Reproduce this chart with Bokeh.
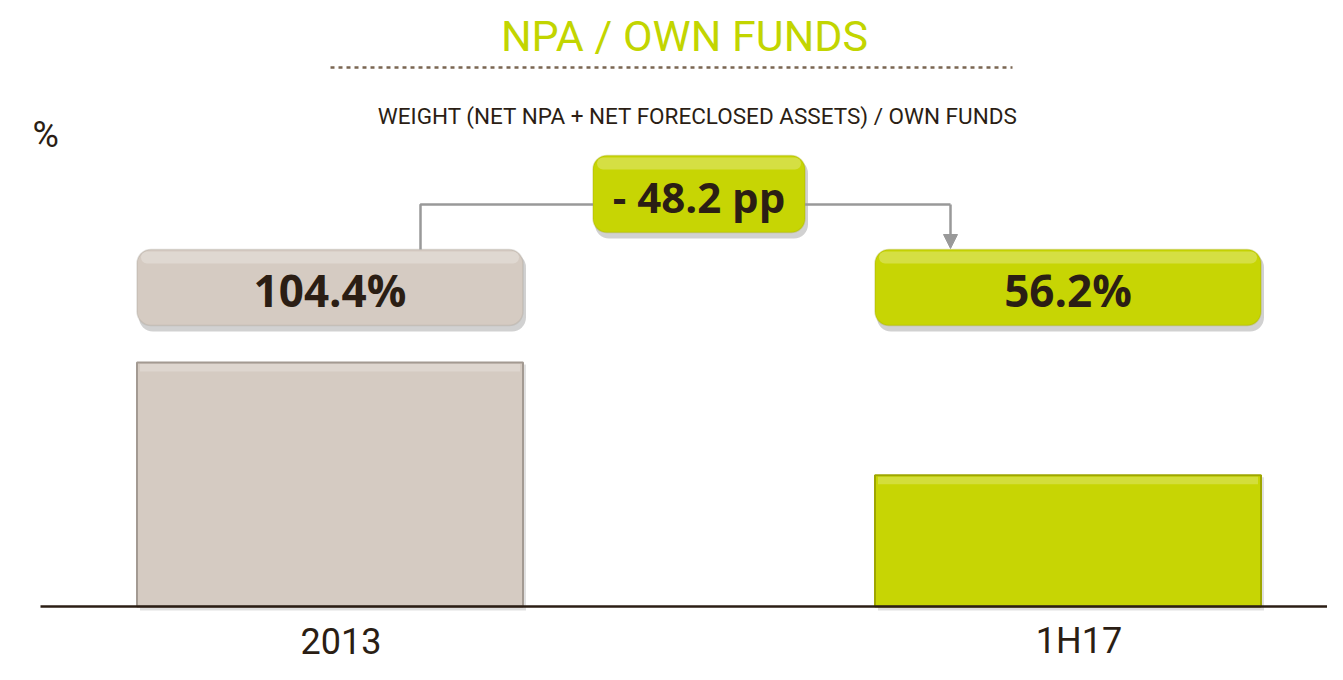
from bokeh.plotting import figure
from bokeh.models import Range1d, BoxAnnotation, Arrow, NormalHead
from bokeh.core.properties import value
from bokeh.embed import file_html
from bokeh.resources import INLINE

# ---- data ----
categories = ["2013", "1H17"]
values = [104.4, 56.2]
value_labels = ["104.4%", "56.2%"]
title_text = "NPA / OWN FUNDS"
subtitle_text = "WEIGHT (NET NPA + NET FORECLOSED ASSETS) / OWN FUNDS"
unit_label = "%"

delta = values[1] - values[0]
delta_label = ("- " if delta < 0 else "+ ") + f"{abs(delta):.1f} pp"

# ---- styling / layout ----
W, H = 1327, 664
PX_PER_X = 738.0      # pixels per category step
X0_PX = 329.5         # pixel of first category
BASE_PX = 606.0       # pixel row of the zero line (from top)
PX_PER_Y = 2.337      # pixels per percentage point

def xd(px):
    return (px - X0_PX) / PX_PER_X

def yd(py):
    return (BASE_PX - py) / PX_PER_Y

GREY = "#d5cbc2"
GREY_EDGE = "#a39a92"
LIME = "#c7d504"
LIME_EDGE = "#9ea600"
DARK = "#2b1e14"
TITLE_C = "#c2d500"
CONN = "#999999"
FONT = "Roboto"

bar_colors = [GREY, LIME]
edge_colors = [GREY_EDGE, LIME_EDGE]
BW = 386 / PX_PER_X

p = figure(width=W, height=H, output_backend="svg", toolbar_location=None,
           x_range=Range1d(xd(0), xd(W)), y_range=Range1d(yd(H), yd(0)),
           x_axis_location=None, y_axis_location=None,
           min_border=0, min_border_left=0, min_border_right=0,
           min_border_top=0, min_border_bottom=0)
p.grid.visible = False
p.outline_line_color = None
p.background_fill_color = "white"

xs = list(range(len(categories)))

# bar shadows
p.vbar(x=[x + 3 / PX_PER_X for x in xs], top=[v - 2 / PX_PER_Y for v in values],
       bottom=-4 / PX_PER_Y, width=BW, fill_color="black", fill_alpha=0.12, line_color=None)
# bars
p.vbar(x=xs, top=values, bottom=0, width=BW, fill_color=bar_colors,
       line_color=edge_colors, line_width=2)
# bevel highlight along the bar tops
p.vbar(x=xs, top=[v - 1.5 / PX_PER_Y for v in values],
       bottom=[v - 9 / PX_PER_Y for v in values], width=BW - 6 / PX_PER_X,
       fill_color="white", fill_alpha=0.22, line_color=None)

# baseline
p.segment(x0=[xd(40)], y0=[0], x1=[xd(W)], y1=[0], line_color=DARK, line_width=2.5)

# value label boxes
box_top, box_bot = yd(249), yd(325)
for i, x in enumerate(xs):
    p.add_layout(BoxAnnotation(left=x - BW / 2 + 2 / PX_PER_X, right=x + BW / 2 + 3 / PX_PER_X,
                               top=box_top - 4 / PX_PER_Y, bottom=box_bot - 6 / PX_PER_Y,
                               fill_color="black", fill_alpha=0.18, line_color=None,
                               border_radius=14, level="underlay"))
    p.add_layout(BoxAnnotation(left=x - BW / 2, right=x + BW / 2, top=box_top, bottom=box_bot,
                               fill_color=bar_colors[i], fill_alpha=1.0,
                               line_color=edge_colors[i], line_width=1.5,
                               border_radius=14, level="underlay"))
    p.add_layout(BoxAnnotation(left=x - BW / 2 + 4 / PX_PER_X, right=x + BW / 2 - 4 / PX_PER_X,
                               top=box_top - 2 / PX_PER_Y, bottom=box_top - 14 / PX_PER_Y,
                               fill_color="white", fill_alpha=0.25, line_color=None,
                               border_radius=10, level="underlay"))

p.text(x=xs, y=[yd(289)] * len(xs), text=value_labels, text_align="center",
       text_baseline="middle", text_font=value("Open Sans"), text_font_style="bold",
       text_font_size="44px", text_color=DARK)

# delta box
mid = (xs[0] + xs[1]) / 2
dhw = 106 / PX_PER_X
d_top, d_bot = yd(155), yd(232)
p.add_layout(BoxAnnotation(left=mid - dhw + 2 / PX_PER_X, right=mid + dhw + 3 / PX_PER_X,
                           top=d_top - 4 / PX_PER_Y, bottom=d_bot - 6 / PX_PER_Y,
                           fill_color="black", fill_alpha=0.18, line_color=None,
                           border_radius=14, level="underlay"))
p.add_layout(BoxAnnotation(left=mid - dhw, right=mid + dhw, top=d_top, bottom=d_bot,
                           fill_color=LIME, fill_alpha=1.0, line_color=LIME_EDGE, line_width=1.5,
                           border_radius=14, level="underlay"))
p.add_layout(BoxAnnotation(left=mid - dhw + 4 / PX_PER_X, right=mid + dhw - 4 / PX_PER_X,
                           top=d_top - 2 / PX_PER_Y, bottom=d_top - 14 / PX_PER_Y,
                           fill_color="white", fill_alpha=0.25, line_color=None,
                           border_radius=10, level="underlay"))
p.text(x=[mid], y=[yd(196)], text=[delta_label], text_align="center", text_baseline="middle",
       text_font=value("Open Sans"), text_font_style="bold", text_font_size="42px",
       text_color=DARK)

# connectors
conn_y = yd(204)
lx = xs[0] + 90.5 / PX_PER_X
rx = xs[1] - 117.5 / PX_PER_X
p.line(x=[lx, lx, mid - dhw], y=[box_top, conn_y, conn_y], line_color=CONN, line_width=2.5)
p.line(x=[mid + dhw, rx], y=[conn_y, conn_y], line_color=CONN, line_width=2.5)
p.add_layout(Arrow(end=NormalHead(size=14, fill_color=CONN, line_color=CONN),
                   x_start=rx, y_start=conn_y, x_end=rx, y_end=yd(248),
                   line_color=CONN, line_width=2.5))

# title, dashed rule, subtitle, unit
p.text(x=[xd(684)], y=[yd(35)], text=[title_text], text_align="center", text_baseline="middle",
       text_font=value(FONT), text_font_size="43px", text_color=TITLE_C)
p.segment(x0=[xd(330)], y0=[yd(67)], x1=[xd(1012)], y1=[yd(67)], line_color="#7a6652",
          line_width=2.5, line_dash="4 4")
p.text(x=[xd(697.5)], y=[yd(115)], text=[subtitle_text], text_align="center",
       text_baseline="middle", text_font=value(FONT),
       text_font_size="22.5px", text_color=DARK)
p.text(x=[xd(32)], y=[yd(134)], text=[unit_label], text_align="left", text_baseline="middle",
       text_font=value(FONT), text_font_size="36px", text_color=DARK)

# category labels
p.text(x=xs, y=[yd(640)] * len(xs), text=categories, text_align="center",
       text_baseline="middle", x_offset=11, text_font=value(FONT),
       text_font_size="36px", text_color=DARK)

open("out.html", "w").write(file_html(p, INLINE))
